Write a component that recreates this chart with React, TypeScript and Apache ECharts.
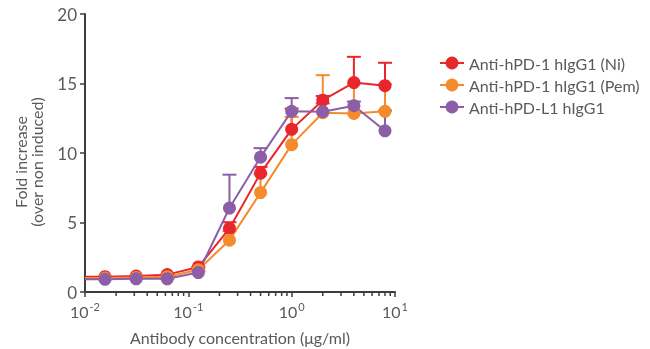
import React, { useEffect, useRef } from "react";
import * as echarts from "echarts";

const seriesNames = ["Anti-hPD-1 hIgG1 (Ni)", "Anti-hPD-1 hIgG1 (Pem)", "Anti-hPD-L1 hIgG1"];
const seriesColors = ["#e8262b", "#f68b2d", "#8c5ea8"];
const concentrations = [0.015625, 0.03125, 0.0625, 0.125, 0.25, 0.5, 1, 2, 4, 8];
const niMean = [1.1, 1.15, 1.25, 1.8, 4.57, 8.55, 11.7, 13.8, 15.07, 14.84];
const pemMean = [1.0, 1.05, 1.1, 1.6, 3.73, 7.15, 10.6, 12.9, 12.85, 13.0];
const l1Mean = [0.91, 0.95, 0.95, 1.4, 6.04, 9.7, 13.0, 12.97, 13.4, 11.6];
const niErr = [0, 0, 0, 0, 0.45, 0.45, 1.5, 0.3, 1.85, 1.65];
const pemErr = [0, 0, 0, 0.1, 0.65, 1.35, 2.0, 2.7, 2.15, 1.95];
const l1Err = [0, 0, 0, 0.1, 2.4, 0.65, 0.95, 0.6, 0.3, 1.45];
const axisStart = 0.01;
const minorTickValues = [
  0.02, 0.03, 0.04, 0.05, 0.06, 0.07, 0.08, 0.09,
  0.2, 0.3, 0.4, 0.5, 0.6, 0.7, 0.8, 0.9,
  2, 3, 4, 5, 6, 7, 8, 9,
];
const yTicks = [0, 5, 10, 15, 20];

const FONT = "Lato";
const TEXT = "#5a5a5a";
const AXIS = "#3e3e3e";

export default function App() {
  const ref = useRef<HTMLDivElement>(null);
  useEffect(() => {
    if (!ref.current) return;
    const chart = echarts.init(ref.current, undefined, { renderer: "svg" });
    const means = [niMean, pemMean, l1Mean];
    const errs = [niErr, pemErr, l1Err];
    const series: any[] = [];
    means.forEach((m, si) => {
      const color = seriesColors[si];
      series.push({
        type: "custom",
        name: seriesNames[si] + " err",
        silent: true,
        clip: false,
        data: concentrations.map((c, i) => [c, m[i], m[i] + errs[si][i]]),
        renderItem: (params: any, api: any) => {
          const x = api.value(0);
          const p1 = api.coord([x, api.value(1)]);
          const p2 = api.coord([x, api.value(2)]);
          const style = { stroke: color, lineWidth: 2 };
          return {
            type: "group",
            children: [
              { type: "line", shape: { x1: p1[0], y1: p1[1], x2: p2[0], y2: p2[1] }, style },
              { type: "line", shape: { x1: p2[0] - 7, y1: p2[1], x2: p2[0] + 7, y2: p2[1] }, style },
            ],
          };
        },
      });
      series.push({
        type: "line",
        name: seriesNames[si],
        color,
        symbol: "circle",
        symbolSize: 13,
        lineStyle: { width: 2, color },
        itemStyle: { color },
        data: [
          { value: [axisStart, m[0]], symbol: "none" },
          ...concentrations.map((c, i) => [c, m[i]]),
        ],
      });
    });
    series.push({
      type: "custom",
      name: "minor",
      silent: true,
      clip: false,
      data: minorTickValues.map((v) => [v, 0]),
      renderItem: (params: any, api: any) => {
        const p = api.coord([api.value(0), 0]);
        return {
          type: "line",
          shape: { x1: p[0], y1: p[1], x2: p[0], y2: p[1] + 4 },
          style: { stroke: AXIS, lineWidth: 1.5 },
        };
      },
    });

    chart.setOption({
      animation: false,
      textStyle: { fontFamily: FONT },
      grid: { left: 85, right: 255, top: 14, bottom: 57, outerBoundsMode: "none", containLabel: false },
      legend: {
        data: seriesNames,
        orient: "vertical",
        left: 434,
        top: 50,
        itemWidth: 24,
        itemHeight: 16,
        itemGap: 6,
        textStyle: { fontFamily: FONT, fontSize: 16, color: TEXT },
      },
      xAxis: {
        type: "log",
        logBase: 10,
        min: 0.01,
        max: 10,
        name: "Antibody concentration (μg/ml)",
        nameLocation: "middle",
        nameGap: 37,
        nameTextStyle: { fontFamily: FONT, fontSize: 16, color: TEXT },
        axisLine: { lineStyle: { color: AXIS, width: 2 } },
        axisTick: { length: 5, lineStyle: { color: AXIS, width: 1.5 } },
        splitLine: { show: false },
        minorTick: { show: false },
        axisLabel: {
          margin: 9,
          formatter: (v: number) => `{b|10}{e|${Math.round(Math.log10(v))}}`,
          rich: {
            b: { fontFamily: FONT, fontSize: 16, color: TEXT, lineHeight: 18, verticalAlign: "bottom" },
            e: { fontFamily: FONT, fontSize: 11, color: TEXT, lineHeight: 18, verticalAlign: "top", padding: [0, 0, 6, 1] },
          },
        },
      },
      yAxis: {
        type: "value",
        min: yTicks[0],
        max: yTicks[yTicks.length - 1],
        interval: 5,
        axisLine: { show: true, lineStyle: { color: AXIS, width: 2 } },
        axisTick: { show: true, length: 5, lineStyle: { color: AXIS, width: 1.5 } },
        splitLine: { show: false },
        axisLabel: { margin: 8, fontFamily: FONT, fontSize: 17, color: TEXT },
      },
      graphic: [
        {
          type: "text",
          x: 28,
          y: 162,
          rotation: Math.PI / 2,
          style: {
            text: "Fold increase\n(over non induced)",
            fontFamily: FONT,
            fontSize: 16,
            lineHeight: 16,
            fill: TEXT,
            align: "center",
            verticalAlign: "middle",
          },
        },
      ],
      series,
    });
    return () => chart.dispose();
  }, []);
  return (
    <div
      ref={ref}
      style={{ position: "fixed", left: 0, top: 0, width: 650, height: 349 }}
    />
  );
}
